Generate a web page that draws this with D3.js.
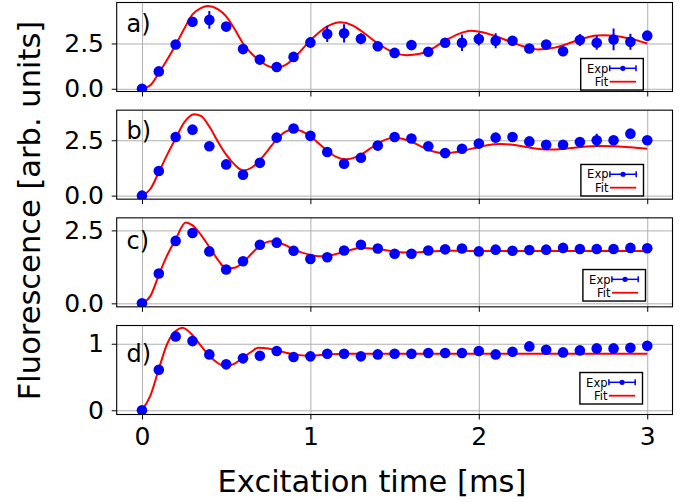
<!DOCTYPE html>
<html><head><meta charset="utf-8">
<script src="https://cdn.jsdelivr.net/npm/d3@7"></script>
<style>
body{margin:0;background:#fff}
svg{display:block}
text{font-family:"DejaVu Sans",sans-serif}
</style>
</head><body>
<svg id="chart" width="694" height="502"></svg>
<script>
// ---------------- data ----------------
const times = [0.0,0.1,0.2,0.3,0.4,0.5,0.6,0.7,0.8,0.9,1.0,1.1,1.2,1.3,1.4,1.5,1.6,1.7,1.8,1.9,2.0,2.1,2.2,2.3,2.4,2.5,2.6,2.7,2.8,2.9,3.0];
const panelLabels = ["a)","b)","c)","d)"];
const xTicks = [0,1,2,3];
const xTickLabels = ["0","1","2","3"];
const xLabel = "Excitation time [ms]";
const yLabel = "Fluorescence [arb. units]";
const legendLabels = ["Exp","Fit"];

const expA = [0,0.96,2.44,3.70,3.80,3.43,2.19,1.61,1.20,1.76,2.56,3.02,3.06,2.76,2.35,1.98,2.41,2.04,2.54,2.54,2.74,2.65,2.65,2.22,2.44,2.07,2.69,2.54,2.72,2.59,2.93];
const errA = [0.05,0.1,0.15,0.25,0.49,0.25,0.15,0.15,0.15,0.2,0.3,0.44,0.5,0.3,0.25,0.15,0.2,0.15,0.2,0.46,0.35,0.42,0.2,0.2,0.2,0.2,0.33,0.39,0.6,0.44,0.2];
const fitTimesA = [0,0.05,0.1,0.15,0.2,0.25,0.3,0.35,0.39,0.45,0.5,0.55,0.6,0.65,0.7,0.75,0.8,0.85,0.9,1.0,1.1,1.18,1.25,1.3,1.4,1.5,1.57,1.65,1.7,1.8,1.9,1.95,2.05,2.1,2.2,2.3,2.35,2.45,2.5,2.6,2.7,2.75,2.8,2.9,3.0];
const fitA = [0,0.2,0.87,1.62,2.42,3.3,4.1,4.45,4.57,4.4,4.0,3.3,2.5,1.95,1.55,1.25,1.15,1.3,1.67,2.67,3.44,3.67,3.5,3.2,2.5,1.98,1.85,1.93,2.1,2.65,3.1,3.2,3.05,2.9,2.55,2.25,2.17,2.27,2.4,2.72,2.94,2.96,2.93,2.76,2.5];

const expB = [0,1.11,2.65,2.98,2.23,1.41,0.94,1.48,2.62,3.03,2.70,1.97,1.44,1.71,2.26,2.65,2.58,2.23,1.92,2.12,2.35,2.62,2.65,2.45,2.30,2.30,2.42,2.50,2.50,2.80,2.50];
const errB = [0.05,0.12,0.12,0.12,0.12,0.12,0.12,0.12,0.12,0.12,0.12,0.12,0.12,0.12,0.12,0.12,0.12,0.12,0.12,0.12,0.12,0.12,0.12,0.12,0.12,0.12,0.2,0.3,0.2,0.12,0.12];
const fitTimesB = [0,0.05,0.1,0.15,0.2,0.25,0.31,0.35,0.4,0.45,0.5,0.55,0.6,0.65,0.7,0.75,0.8,0.85,0.9,1.0,1.05,1.1,1.15,1.21,1.3,1.35,1.4,1.45,1.5,1.6,1.65,1.7,1.79,1.9,2.0,2.05,2.13,2.2,2.3,2.42,2.5,2.6,2.72,2.8,2.9,3.0];
const fitB = [0,0.3,1.06,1.85,2.58,3.3,3.68,3.6,3.12,2.45,1.85,1.4,1.14,1.26,1.6,2.07,2.54,2.88,3.0,2.68,2.35,2.02,1.76,1.64,1.85,2.1,2.35,2.54,2.61,2.43,2.25,2.07,1.92,2.02,2.2,2.28,2.33,2.3,2.17,2.08,2.11,2.19,2.24,2.23,2.18,2.12];

const expC = [0,1.02,2.14,2.41,1.78,1.16,1.44,2.01,2.08,1.80,1.52,1.58,1.81,2.01,1.88,1.70,1.70,1.81,1.85,1.88,1.78,1.84,1.80,1.83,1.84,1.90,1.86,1.86,1.86,1.90,1.89];
const errC = [0.04,0.08,0.08,0.08,0.08,0.08,0.08,0.08,0.08,0.08,0.08,0.08,0.08,0.08,0.08,0.08,0.08,0.08,0.08,0.08,0.08,0.08,0.08,0.08,0.08,0.08,0.08,0.08,0.08,0.08,0.08];
const fitTimesC = [0,0.05,0.1,0.15,0.2,0.26,0.3,0.35,0.4,0.45,0.5,0.55,0.6,0.65,0.7,0.77,0.85,0.9,1.0,1.05,1.1,1.2,1.3,1.4,1.5,1.6,1.7,1.8,1.9,2.0,2.5,3.0];
const fitC = [0,0.25,0.97,1.65,2.2,2.77,2.67,2.35,1.93,1.5,1.2,1.22,1.4,1.7,1.97,2.13,2.0,1.85,1.66,1.61,1.63,1.76,1.9,1.86,1.77,1.74,1.77,1.8,1.8,1.79,1.79,1.79];

const expD = [0,0.61,1.11,1.04,0.84,0.69,0.78,0.82,0.89,0.80,0.81,0.85,0.85,0.81,0.84,0.85,0.85,0.86,0.86,0.86,0.89,0.84,0.88,0.96,0.91,0.87,0.90,0.93,0.93,0.94,0.97];
const errD = [0.02,0.03,0.03,0.03,0.03,0.03,0.03,0.03,0.03,0.03,0.03,0.03,0.03,0.03,0.03,0.03,0.03,0.03,0.03,0.03,0.03,0.03,0.03,0.03,0.03,0.03,0.03,0.03,0.03,0.03,0.03];
const fitTimesD = [0,0.05,0.1,0.15,0.2,0.24,0.3,0.35,0.4,0.45,0.49,0.55,0.6,0.65,0.69,0.75,0.8,0.9,1.0,1.1,1.2,2.0,3.0];
const fitD = [0,0.22,0.62,1.0,1.19,1.24,1.13,0.97,0.82,0.71,0.66,0.7,0.79,0.88,0.94,0.93,0.9,0.84,0.82,0.84,0.85,0.85,0.85];

const yTicksAC = [0, 2.5];
const yTickLabelsAC = ["0.0","2.5"];
const yTicksD = [0, 1];
const yTickLabelsD = ["0","1"];

// ---------------- layout / style ----------------
const W = 694, H = 502;
const left = 116.7, right = 672.5;
const panelTop0 = 2.5, panelStep = 107.67, panelH = 89;
const BLUE = "#0000ff", RED = "#ff0000", GRID = "#b0b0b0";
const tickFont = 25;

const panels = [
  {label: panelLabels[0], exp: expA, err: errA, fitT: fitTimesA, fit: fitA, dom: [-0.15, 4.76], ticks: yTicksAC, tickLabels: yTickLabelsAC, labelDy: 29.2, legRight: 29.2, legBottom: 1.5},
  {label: panelLabels[1], exp: expB, err: errB, fitT: fitTimesB, fit: fitB, dom: [-0.16, 3.86], ticks: yTicksAC, tickLabels: yTickLabelsAC, labelDy: 29.1, legRight: 29.0, legBottom: 3.2},
  {label: panelLabels[2], exp: expC, err: errC, fitT: fitTimesC, fit: fitC, dom: [-0.12, 2.93], ticks: yTicksAC, tickLabels: yTickLabelsAC, labelDy: 31.5, legRight: 27.0, legBottom: 5.8},
  {label: panelLabels[3], exp: expD, err: errD, fitT: fitTimesD, fit: fitD, dom: [-0.064, 1.274], ticks: yTicksD, tickLabels: yTickLabelsD, labelDy: 36.2, legRight: 30.0, legBottom: 10.5}
];

const svg = d3.select("#chart");
svg.append("rect").attr("width", W).attr("height", H).attr("fill", "#fff");

const x = d3.scaleLinear().domain([-0.15, 3.15]).range([left, right]);

panels.forEach((p, i) => {
  const top = panelTop0 + i * panelStep;
  const bottom = top + panelH;
  const y = d3.scaleLinear().domain(p.dom).range([bottom, top]);
  const g = svg.append("g");

  const clipId = "clip" + i;
  svg.append("clipPath").attr("id", clipId)
    .append("rect").attr("x", left).attr("y", top).attr("width", right - left).attr("height", panelH);

  // grid
  const gx = g.append("g").attr("transform", `translate(0,${bottom})`)
    .call(d3.axisBottom(x).tickValues(xTicks).tickSize(-panelH).tickFormat(""));
  gx.select(".domain").remove();
  gx.selectAll("line").attr("stroke", GRID).attr("stroke-width", 1);
  const gy = g.append("g").attr("transform", `translate(${left},0)`)
    .call(d3.axisLeft(y).tickValues(p.ticks).tickSize(-(right - left)).tickFormat(""));
  gy.select(".domain").remove();
  gy.selectAll("line").attr("stroke", GRID).attr("stroke-width", 1);

  const dg = g.append("g").attr("clip-path", `url(#${clipId})`);
  // fit line
  const fitData = p.fitT.map((t, k) => [t, p.fit[k]]);
  dg.append("path").datum(fitData)
    .attr("fill", "none").attr("stroke", RED).attr("stroke-width", 2)
    .attr("d", d3.line().x(d => x(d[0])).y(d => y(d[1])).curve(d3.curveMonotoneX));

  // error bars
  const expData = times.map((t, k) => ({t, v: p.exp[k], e: p.err[k]}));
  dg.selectAll(".eb").data(expData).enter().append("line")
    .attr("x1", d => x(d.t)).attr("x2", d => x(d.t))
    .attr("y1", d => y(d.v - d.e)).attr("y2", d => y(d.v + d.e))
    .attr("stroke", BLUE).attr("stroke-width", 2);
  // points
  dg.selectAll(".pt").data(expData).enter().append("circle")
    .attr("cx", d => x(d.t)).attr("cy", d => y(d.v)).attr("r", 5.3)
    .attr("fill", BLUE);

  // axes
  const ax = g.append("g").attr("transform", `translate(0,${bottom})`)
    .call(d3.axisBottom(x).tickValues(xTicks).tickSize(5).tickPadding(7.5)
      .tickFormat((d, k) => i === panels.length - 1 ? xTickLabels[k] : ""));
  ax.select(".domain").remove();
  ax.selectAll("line").attr("stroke", "#000").attr("stroke-width", 1);
  ax.selectAll("text").attr("font-size", tickFont).attr("fill", "#000").attr("font-family", "DejaVu Sans");

  const ay = g.append("g").attr("transform", `translate(${left},0)`)
    .call(d3.axisLeft(y).tickValues(p.ticks).tickSize(5).tickPadding(7.7)
      .tickFormat((d, k) => p.tickLabels[k]));
  ay.select(".domain").remove();
  ay.selectAll("line").attr("stroke", "#000").attr("stroke-width", 1);
  ay.selectAll("text").attr("font-size", tickFont).attr("fill", "#000").attr("font-family", "DejaVu Sans");

  // spines
  g.append("rect").attr("x", left).attr("y", top).attr("width", right - left).attr("height", panelH)
    .attr("fill", "none").attr("stroke", "#000").attr("stroke-width", 1.1);

  // panel label
  g.append("text").attr("x", 126.5).attr("y", top + p.labelDy)
    .attr("font-size", 24).attr("fill", "#000").text(p.label);

  // legend
  const lw = 62.6, lh = 31.5;
  const lx = right - p.legRight - lw, ly = bottom - p.legBottom - lh;
  const lg = g.append("g").attr("transform", `translate(${lx},${ly})`);
  lg.append("rect").attr("width", lw).attr("height", lh).attr("fill", "#fff")
    .attr("stroke", "#000").attr("stroke-width", 1.4);
  const r1 = 9.8, r2 = 23.2, hx0 = 29, hx1 = 55.3;
  lg.append("text").attr("x", 27.6).attr("y", r1 + 4.2).attr("text-anchor", "end")
    .attr("font-size", 11.5).attr("fill", "#000").text(legendLabels[0]);
  lg.append("text").attr("x", 27.6).attr("y", r2 + 4.2).attr("text-anchor", "end")
    .attr("font-size", 11.5).attr("fill", "#000").text(legendLabels[1]);
  lg.append("line").attr("x1", hx0).attr("x2", hx1).attr("y1", r1).attr("y2", r1)
    .attr("stroke", BLUE).attr("stroke-width", 1.5);
  [hx0, hx1].forEach(cx => lg.append("line").attr("x1", cx).attr("x2", cx)
    .attr("y1", r1 - 3).attr("y2", r1 + 3).attr("stroke", BLUE).attr("stroke-width", 1.5));
  lg.append("circle").attr("cx", (hx0 + hx1) / 2).attr("cy", r1).attr("r", 2.6).attr("fill", BLUE);
  lg.append("line").attr("x1", hx0).attr("x2", hx1).attr("y1", r2).attr("y2", r2)
    .attr("stroke", RED).attr("stroke-width", 1.8);
});

// axis titles
svg.append("text").attr("x", 372).attr("y", 492).attr("text-anchor", "middle")
  .attr("font-size", 30.5).attr("fill", "#000").text(xLabel);
svg.append("text").attr("transform", "translate(40,210.5) rotate(-90)").attr("text-anchor", "middle")
  .attr("font-size", 30.5).attr("fill", "#000").text(yLabel);
</script>
</body></html>
